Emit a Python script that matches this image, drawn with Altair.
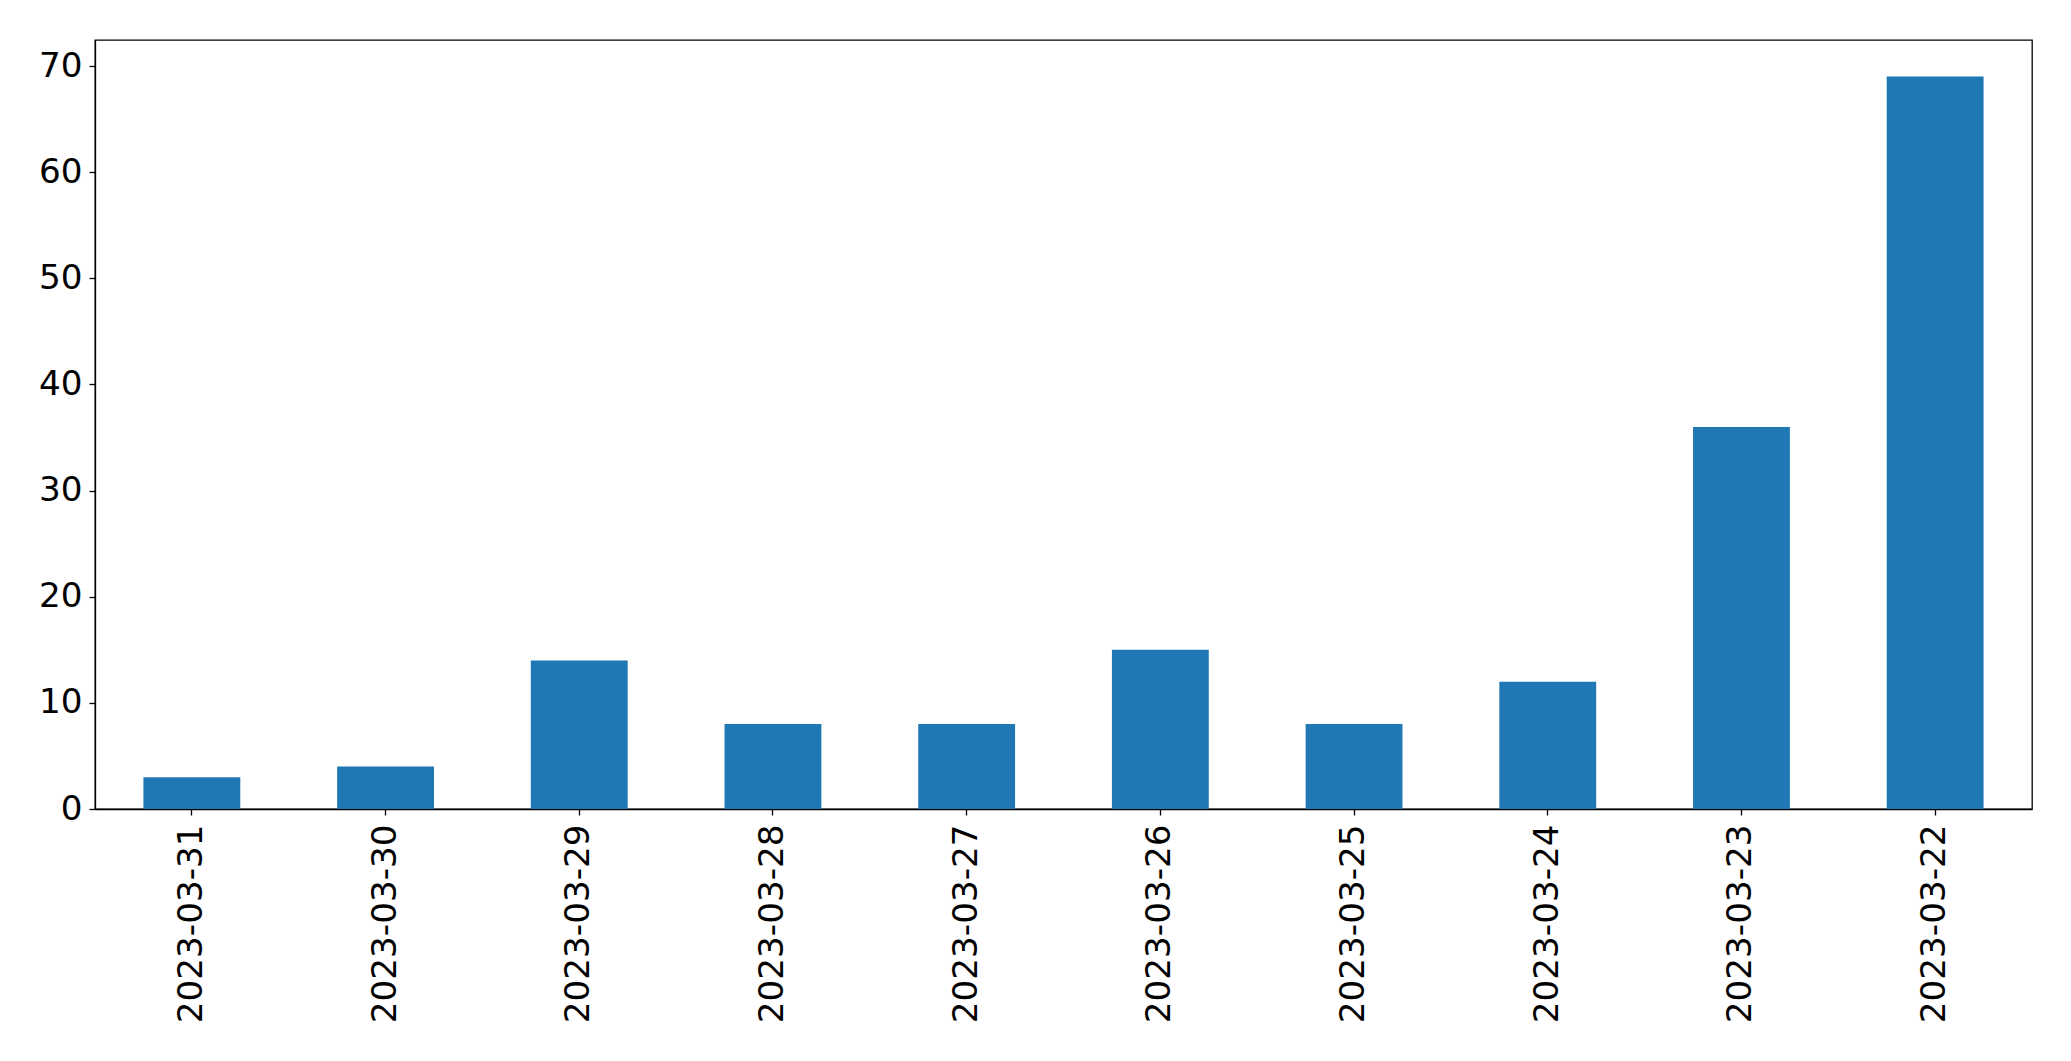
import altair as alt
import pandas as pd

dates = ["2023-03-31", "2023-03-30", "2023-03-29", "2023-03-28", "2023-03-27",
         "2023-03-26", "2023-03-25", "2023-03-24", "2023-03-23", "2023-03-22"]
counts = [3, 4, 14, 8, 8, 15, 8, 12, 36, 69]
y_ticks = [0, 10, 20, 30, 40, 50, 60, 70]

df = pd.DataFrame({"date": dates, "count": counts})

chart = alt.Chart(df).mark_bar(color="#1f77b4").encode(
    x=alt.X("date:N", sort=dates, title=None,
            scale=alt.Scale(paddingInner=0.5, paddingOuter=0.25),
            axis=alt.Axis(labelAngle=-90, labelPadding=9, tickSize=6, labelLimit=0)),
    y=alt.Y("count:Q", title=None,
            scale=alt.Scale(domain=[0, 72.45], nice=False, zero=True),
            axis=alt.Axis(values=y_ticks, labelPadding=7, tickSize=6)),
).properties(
    width=1937,
    height=769,
    autosize=alt.AutoSizeParams(type="none"),
    padding={"left": 95, "top": 40, "right": 39, "bottom": 252},
).configure_view(
    stroke="black", strokeWidth=1.3
).configure_axis(
    grid=False,
    domainColor="black",
    domainWidth=1.3,
    tickColor="black",
    tickWidth=1.3,
    labelFont="DejaVu Sans",
    labelFontSize=34.2,
    labelColor="black",
)

chart.save("out.html", embed_options={"renderer": "svg", "actions": False})
